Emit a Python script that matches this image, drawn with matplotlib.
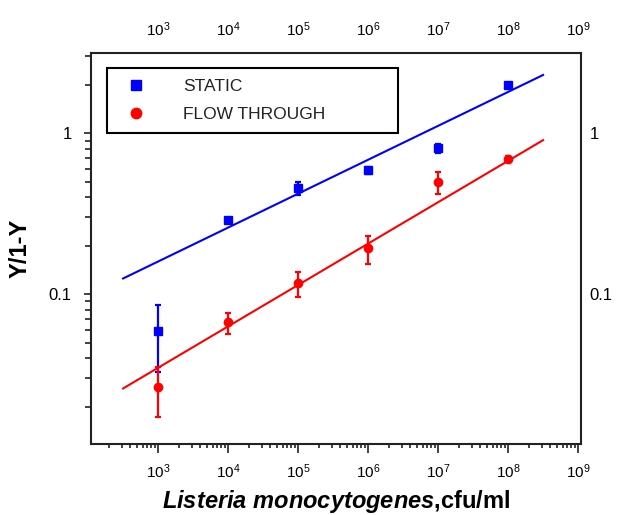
import matplotlib
matplotlib.use('Agg')
import matplotlib.pyplot as plt
from matplotlib.lines import Line2D
from matplotlib.ticker import (LogLocator, FixedLocator, FuncFormatter,
                               NullFormatter)

plt.rcParams['font.family'] = ['Liberation Sans', 'DejaVu Sans']
plt.rcParams['mathtext.fontset'] = 'custom'
plt.rcParams['mathtext.rm'] = 'Liberation Sans'
plt.rcParams['mathtext.it'] = 'Liberation Sans:italic'
plt.rcParams['mathtext.bf'] = 'Liberation Sans:bold'
plt.rcParams['mathtext.bfit'] = 'Liberation Sans:bold:italic'

# ---- data ----
conc = [1e3, 1e4, 1e5, 1e6, 1e7, 1e8]
static_y = [0.059, 0.287, 0.455, 0.589, 0.806, 1.99]
static_err = [0.026, 0.012, 0.04, 0.03, 0.05, 0.06]
flow_y = [0.0263, 0.0667, 0.1166, 0.192, 0.496, 0.689]
flow_err = [0.009, 0.01, 0.021, 0.038, 0.075, 0.03]
fit_x = [316, 3.16e8]
static_fit = [0.125, 2.3]
flow_fit = [0.0259, 0.905]
x_ticks = [1e3, 1e4, 1e5, 1e6, 1e7, 1e8, 1e9]
y_ticks = [0.1, 1]
legend_labels = ['STATIC', 'FLOW THROUGH']

BLUE = '#0000ff'
RED = '#ff0000'
W, H = 622, 515

fig = plt.figure(figsize=(W / 100, H / 100), dpi=100)
ax = fig.add_axes([91 / W, 1 - 444 / H, (581 - 91) / W, (444 - 53) / H])
ax.set_xscale('log')
ax.set_yscale('log')

ax.plot(fit_x, static_fit, color=BLUE, lw=1.5, zorder=2)
ax.plot(fit_x, flow_fit, color=RED, lw=1.5, zorder=2)
ax.errorbar(conc, static_y, yerr=static_err, fmt='s', color=BLUE, ms=5.5,
            elinewidth=1.6, capsize=2.5, capthick=1.6, zorder=3)
ax.errorbar(conc, flow_y, yerr=flow_err, fmt='o', color=RED, ms=6,
            elinewidth=1.6, capsize=2.5, capthick=1.6, zorder=3)

ax.set_xlim(110, 1.1e9)
ax.set_ylim(0.0117, 3.15)

for s in ax.spines.values():
    s.set_linewidth(1.5)
    s.set_color('#222222')

ax.xaxis.set_major_locator(FixedLocator(x_ticks))
ax.xaxis.set_minor_locator(LogLocator(base=10, subs=range(2, 10), numticks=20))
ax.xaxis.set_minor_formatter(NullFormatter())
ax.yaxis.set_major_locator(FixedLocator(y_ticks))
ax.yaxis.set_minor_locator(LogLocator(base=10, subs=range(2, 10), numticks=20))
yfmt = FuncFormatter(lambda v, p: f'{v:g}')
ax.yaxis.set_major_formatter(yfmt)
ax.yaxis.set_minor_formatter(NullFormatter())

ax.tick_params(axis='x', which='major', direction='out', length=6.5, width=1.2,
               labelsize=11, pad=7, top=False, color='#222222')
ax.tick_params(axis='x', which='minor', direction='out', length=3, width=1.2,
               top=False, color='#222222')
ax.tick_params(axis='y', which='major', direction='out', length=5, width=1.2,
               labelsize=12, pad=9, right=False, color='#222222')
ax.tick_params(axis='y', which='minor', direction='out', length=4, width=1.2,
               right=False, color='#222222')

secx = ax.secondary_xaxis('top')
secx.xaxis.set_major_locator(FixedLocator(x_ticks))
secx.xaxis.set_minor_locator(FixedLocator([]))
secx.tick_params(which='both', length=0, pad=10, labelsize=11)
secx.spines['top'].set_visible(False)

secy = ax.secondary_yaxis('right')
secy.yaxis.set_major_locator(FixedLocator(y_ticks))
secy.yaxis.set_minor_locator(FixedLocator([]))
secy.yaxis.set_major_formatter(yfmt)
secy.tick_params(which='both', length=0, pad=6, labelsize=12)
secy.spines['right'].set_visible(False)

ax.set_xlabel(r'$\mathbfit{Listeria\ monocytogenes}$,cfu/ml', fontsize=17,
              fontweight='bold', labelpad=5)
ax.set_ylabel('Y/1-Y', fontsize=17, fontweight='bold', labelpad=12)

handles = [Line2D([], [], ls='none', marker='s', color=BLUE, ms=7),
           Line2D([], [], ls='none', marker='o', color=RED, ms=7.5)]
leg = ax.legend(handles, legend_labels, loc='upper left',
                bbox_to_anchor=(0.033, 0.786, 0.593, 0.176), mode='expand',
                fontsize=12.5, frameon=True, fancybox=False, edgecolor='black',
                borderpad=0.65, labelspacing=0.7, handlelength=2,
                handletextpad=1.7, borderaxespad=0, framealpha=1)
leg.get_frame().set_linewidth(1.5)
for t in leg.get_texts():
    t.set_color('#222222')

fig.savefig('out.png', dpi=100)
